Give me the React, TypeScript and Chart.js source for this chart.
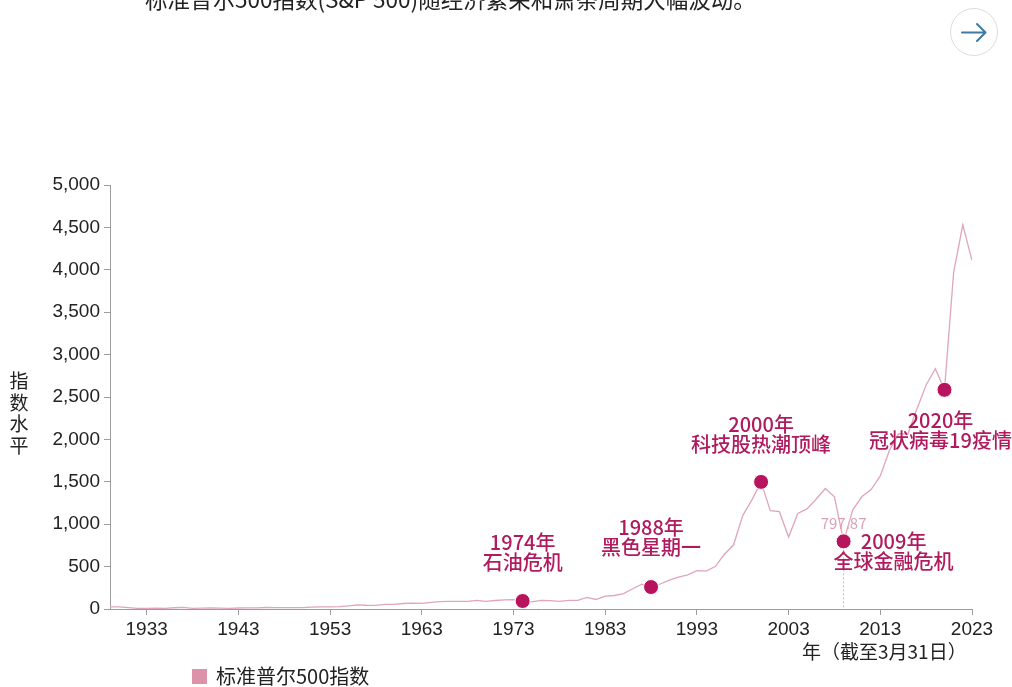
import React, { useEffect, useRef } from "react";
import { Chart, registerables } from "chart.js";

Chart.register(...registerables);

// ---- Data ----
const years = [
  1929, 1930, 1931, 1932, 1933, 1934, 1935, 1936, 1937, 1938, 1939, 1940, 1941, 1942, 1943, 1944, 1945, 1946, 1947, 1948,
  1949, 1950, 1951, 1952, 1953, 1954, 1955, 1956, 1957, 1958, 1959, 1960, 1961, 1962, 1963, 1964, 1965, 1966, 1967, 1968,
  1969, 1970, 1971, 1972, 1973, 1974, 1975, 1976, 1977, 1978, 1979, 1980, 1981, 1982, 1983, 1984, 1985, 1986, 1987, 1988,
  1989, 1990, 1991, 1992, 1993, 1994, 1995, 1996, 1997, 1998, 1999, 2000, 2001, 2002, 2003, 2004, 2005, 2006, 2007, 2008,
  2009, 2010, 2011, 2012, 2013, 2014, 2015, 2016, 2017, 2018, 2019, 2020, 2021, 2022, 2023,
];

const sp500 = [
  25, 25.1, 16.0, 8.3, 6.9, 11.3, 8.5, 15.0, 18.1, 8.5, 11.0, 12.2, 10.0, 8.5, 11.6, 12.1, 13.5, 17.5, 15.2, 15.1,
  15.1, 17.3, 21.5, 24.4, 25.3, 26.9, 36.6, 48.5, 44.1, 42.1, 55.4, 55.3, 65.1, 69.6, 66.6, 79.0, 86.2, 89.2, 90.2, 90.2,
  101.5, 89.6, 100.3, 107.2, 111.5, 94.0, 83.4, 102.8, 98.4, 89.2, 101.6, 102.1, 136.0, 112.0, 153.0, 159.2, 180.7, 238.9, 291.7, 258.9,
  294.9, 339.9, 375.2, 403.7, 451.7, 445.8, 500.7, 645.5, 757.1, 1101.8, 1286.4, 1498.6, 1160.3, 1147.4, 848.2, 1126.2, 1180.6, 1294.8, 1420.9, 1322.7,
  797.87, 1169.4, 1325.8, 1408.5, 1569.2, 1872.3, 2067.9, 2059.7, 2362.7, 2640.9, 2834.4, 2584.6, 3972.9, 4530.4, 4109.3,
];

const xTickYears = [1933, 1943, 1953, 1963, 1973, 1983, 1993, 2003, 2013, 2023];

const eventYears = [1974, 1988, 2000, 2009, 2020];
const eventLabels = [
  ["1974年", "石油危机"],
  ["1988年", "黑色星期一"],
  ["2000年", "科技股热潮顶峰"],
  ["2009年", "全球金融危机"],
  ["2020年", "冠状病毒19疫情"],
];
const valueLabelYear = 2009;
const valueLabelText = "797.87";

const titleText = "标准普尔500指数(S&P 500)随经济繁荣和萧条周期大幅波动。";
const seriesName = "标准普尔500指数";
const yAxisTitle = ["指", "数", "水", "平"];
const xAxisTitle = "年（截至3月31日）";

// ---- Styles ----
const LINE_COLOR = "#e0a6b8";
const MARKER_COLOR = "#b8145e";
const LABEL_COLOR = "#b01a5e";
const VALUE_LABEL_COLOR = "#d9a2b5";
const AXIS_COLOR = "#9c9c9c";
const TEXT_COLOR = "#222222";
const CJK = '"Noto Sans CJK SC", "Noto Sans", sans-serif';
const LATIN = '"Liberation Sans", Arial, sans-serif';

// label offsets relative to marker pixel (style only)
const labelOffsets: Record<number, { dx: number; dy: number[] }> = {
  1974: { dx: 0, dy: [-59, -39] },
  1988: { dx: 0, dy: [-60, -40] },
  2000: { dx: 0, dy: [-58, -38] },
  2009: { dx: 50, dy: [0, 20] },
  2020: { dx: -4, dy: [31, 51] },
};

const annotationPlugin = {
  id: "eventAnnotations",
  beforeDatasetsDraw(chart: any) {
    const { ctx, scales } = chart;
    const idx = years.indexOf(valueLabelYear);
    const px = scales.x.getPixelForValue(valueLabelYear);
    const py = scales.y.getPixelForValue(sp500[idx]);
    ctx.save();
    ctx.strokeStyle = "#b9b9b9";
    ctx.lineWidth = 1;
    ctx.setLineDash([2, 2]);
    ctx.beginPath();
    ctx.moveTo(px, py);
    ctx.lineTo(px, chart.chartArea.bottom);
    ctx.stroke();
    ctx.restore();
  },
  afterDatasetsDraw(chart: any) {
    const { ctx, scales } = chart;
    ctx.save();
    ctx.textAlign = "center";
    ctx.textBaseline = "middle";
    eventYears.forEach((yr, i) => {
      const v = sp500[years.indexOf(yr)];
      const px = scales.x.getPixelForValue(yr);
      const py = scales.y.getPixelForValue(v);
      const off = labelOffsets[yr];
      ctx.fillStyle = LABEL_COLOR;
      ctx.font = `500 20px ${CJK}`;
      eventLabels[i].forEach((line, j) => {
        ctx.fillText(line, px + off.dx, py + off.dy[j]);
      });
    });
    const vi = years.indexOf(valueLabelYear);
    const vx = scales.x.getPixelForValue(valueLabelYear);
    const vy = scales.y.getPixelForValue(sp500[vi]);
    ctx.fillStyle = VALUE_LABEL_COLOR;
    ctx.font = `15px ${CJK}`;
    ctx.fillText(valueLabelText, vx, vy - 18);
    ctx.restore();
  },
};

export default function App() {
  const canvasRef = useRef<HTMLCanvasElement | null>(null);

  useEffect(() => {
    if (!canvasRef.current) return;
    const lineData = years.map((y, i) => ({ x: y, y: sp500[i] }));
    const eventData = eventYears.map((y) => ({ x: y, y: sp500[years.indexOf(y)] }));
    const chart = new Chart(canvasRef.current, {
      type: "line",
      data: {
        datasets: [
          {
            label: seriesName,
            data: lineData,
            borderColor: LINE_COLOR,
            backgroundColor: LINE_COLOR,
            borderWidth: 1.3,
            pointRadius: 0,
            tension: 0,
            order: 2,
          },
          {
            type: "scatter",
            label: "events",
            data: eventData,
            pointRadius: 7.5,
            pointBackgroundColor: MARKER_COLOR,
            pointBorderColor: "#ffffff",
            pointBorderWidth: 1,
            order: 1,
          } as any,
        ],
      },
      options: {
        animation: false,
        responsive: true,
        maintainAspectRatio: false,
        layout: { padding: { left: 0, right: 40, top: 185, bottom: 0 } },
        plugins: { legend: { display: false }, tooltip: { enabled: false }, title: { display: false } },
        scales: {
          x: {
            type: "linear",
            min: 1929,
            max: 2023,
            afterBuildTicks(scale: any) {
              scale.ticks = xTickYears.map((v) => ({ value: v }));
            },
            afterFit(scale: any) {
              scale.height = 78;
            },
            ticks: {
              autoSkip: false,
              maxRotation: 0,
              padding: 3,
              color: TEXT_COLOR,
              font: { family: LATIN, size: 19 },
              callback: (v: any) => String(v),
            },
            grid: { drawOnChartArea: false, drawTicks: true, tickLength: 6, color: AXIS_COLOR },
            border: { display: true, color: AXIS_COLOR, width: 1 },
          },
          y: {
            min: 0,
            max: 5000,
            afterFit(scale: any) {
              scale.width = 110;
            },
            ticks: {
              stepSize: 500,
              padding: 4,
              color: TEXT_COLOR,
              font: { family: LATIN, size: 19 },
              callback: (v: any) => Number(v).toLocaleString("en-US"),
            },
            grid: { drawOnChartArea: false, drawTicks: true, tickLength: 6, color: AXIS_COLOR },
            border: { display: true, color: AXIS_COLOR, width: 1 },
          },
        },
      },
      plugins: [annotationPlugin],
    });
    return () => chart.destroy();
  }, []);

  return (
    <div style={{ position: "absolute", left: 0, top: 0, width: 1012, height: 687, background: "#fff", overflow: "hidden" }}>
      <canvas ref={canvasRef} style={{ position: "absolute", left: 0, top: 0, width: 1012, height: 687 }} />
      <div
        style={{
          position: "absolute",
          left: 145,
          top: -14,
          fontFamily: CJK,
          fontSize: 22.5,
          lineHeight: "24px",
          color: TEXT_COLOR,
          whiteSpace: "nowrap",
        }}
      >
        {titleText}
      </div>
      <div
        style={{
          position: "absolute",
          left: 950,
          top: 8,
          width: 48,
          height: 48,
          borderRadius: "50%",
          border: "1.5px solid #d6dde2",
          background: "#fff",
          boxSizing: "border-box",
        }}
      >
        <svg width="45" height="45" viewBox="0 0 45 45" style={{ position: "absolute", left: 0, top: 0 }}>
          <path d="M11 23.5 H34 M26 15 L34.5 23.5 L26 32" fill="none" stroke="#3f7aa3" strokeWidth="2" strokeLinecap="round" strokeLinejoin="round" />
        </svg>
      </div>
      <div
        style={{
          position: "absolute",
          left: 9,
          top: 369,
          width: 20,
          fontFamily: CJK,
          fontSize: 19,
          lineHeight: "21.7px",
          textAlign: "center",
          color: TEXT_COLOR,
        }}
      >
        {yAxisTitle.map((c, i) => (
          <div key={i}>{c}</div>
        ))}
      </div>
      <div
        style={{
          position: "absolute",
          left: 802,
          top: 639,
          fontFamily: CJK,
          fontSize: 19,
          lineHeight: "24px",
          color: TEXT_COLOR,
          whiteSpace: "nowrap",
        }}
      >
        {xAxisTitle}
      </div>
      <div style={{ position: "absolute", left: 192, top: 669, width: 15, height: 15, background: "#dc93aa" }} />
      <div
        style={{
          position: "absolute",
          left: 216,
          top: 663,
          fontFamily: CJK,
          fontSize: 20,
          lineHeight: "26px",
          color: TEXT_COLOR,
          whiteSpace: "nowrap",
        }}
      >
        {seriesName}
      </div>
    </div>
  );
}
